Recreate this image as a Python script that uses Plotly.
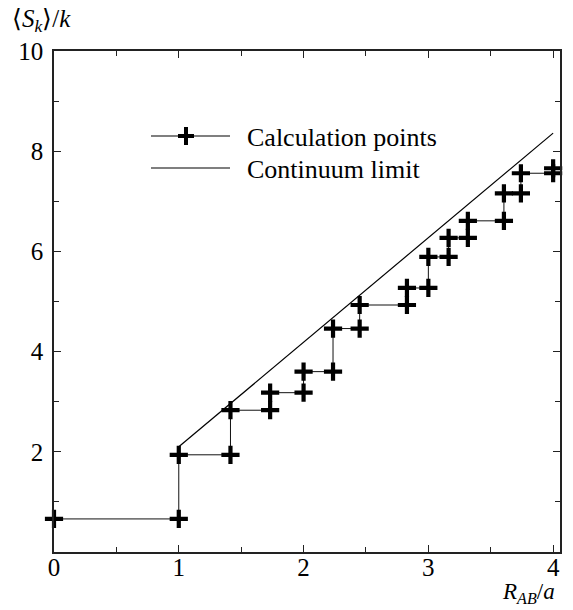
import math
import plotly.graph_objects as go

# Data
r_values = [0, 1, math.sqrt(2), math.sqrt(3), 2, math.sqrt(5), math.sqrt(6),
            math.sqrt(8), 3, math.sqrt(10), math.sqrt(11), math.sqrt(13),
            math.sqrt(14), 4]
s_values = [0.66, 1.94, 2.83, 3.18, 3.60, 4.46, 4.93, 5.27, 5.89, 6.27,
            6.61, 7.16, 7.56, 7.66]
limit_r = [1, 4]
limit_s = [2.10, 8.36]
x_ticks = [0, 1, 2, 3, 4]
y_ticks = [2, 4, 6, 8, 10]

# staircase: each new radius gets a point at the previous and the new value
step_x = [r_values[0]]
step_y = [s_values[0]]
for i in range(1, len(r_values)):
    step_x += [r_values[i], r_values[i]]
    step_y += [s_values[i - 1], s_values[i]]

FONT = "Liberation Serif"

fig = go.Figure()
fig.add_trace(go.Scatter(
    x=step_x, y=step_y, mode="lines+markers", name="Calculation points",
    line=dict(color="#111", width=1),
    marker=dict(symbol="cross-thin", size=13, color="black",
                line=dict(color="black", width=4.2)),
    showlegend=False, cliponaxis=False,
))
fig.add_trace(go.Scatter(
    x=limit_r, y=limit_s, mode="lines", name="Continuum limit",
    line=dict(color="black", width=1.2), showlegend=False,
))

L, R, T, B = 54, 560, 51, 552
W, H = 573, 610


def px(xp):
    return (xp - L) / (R - L)


def py(yp):
    return (B - yp) / (B - T)


shapes = []
for yy in (136, 168):
    shapes.append(dict(type="line", xref="paper", yref="paper",
                       x0=px(151), x1=px(230), y0=py(yy), y1=py(yy),
                       line=dict(color="black", width=1.2)))
cx, cy = 186, 136
shapes.append(dict(type="rect", xref="paper", yref="paper",
                   x0=px(cx - 8), x1=px(cx + 8), y0=py(cy - 2), y1=py(cy + 2),
                   fillcolor="black", line=dict(width=0)))
shapes.append(dict(type="rect", xref="paper", yref="paper",
                   x0=px(cx - 2), x1=px(cx + 2), y0=py(cy - 9), y1=py(cy + 9),
                   fillcolor="black", line=dict(width=0)))

annotations = [
    dict(text="Calculation points", xref="paper", yref="paper",
         x=px(245), y=py(137), xanchor="left", yanchor="middle",
         showarrow=False, font=dict(family=FONT, size=26, color="black")),
    dict(text="Continuum limit", xref="paper", yref="paper",
         x=px(245), y=py(169), xanchor="left", yanchor="middle",
         showarrow=False, font=dict(family=FONT, size=26, color="black")),
    dict(text="⟨<i>S</i><sub><i>k</i></sub>⟩/<i>k</i>", xref="paper", yref="paper",
         x=px(10), y=py(3), xanchor="left", yanchor="top",
         showarrow=False, font=dict(family=FONT, size=25, color="black")),
    dict(text="<i>R</i><sub><i>AB</i></sub>/<i>a</i>", xref="paper", yref="paper",
         x=px(557), y=py(577), xanchor="right", yanchor="top",
         showarrow=False, font=dict(family=FONT, size=23, color="black")),
]

axis_common = dict(
    showline=True, linecolor="#222", linewidth=1.5, mirror="ticks",
    ticks="inside", ticklen=7, tickwidth=1.2, tickcolor="#222",
    showgrid=False, zeroline=False,
    tickfont=dict(family=FONT, size=25, color="black"),
)

fig.update_layout(
    width=W, height=H,
    margin=dict(l=L, r=W - R, t=T, b=H - B, autoexpand=False),
    paper_bgcolor="white", plot_bgcolor="white",
    xaxis=dict(range=[0, 4.055], tickvals=x_ticks, ticktext=[str(v) for v in x_ticks],
               minor=dict(dtick=0.5, tick0=0, ticks="inside", ticklen=5,
                          tickwidth=1.2, tickcolor="#222"),
               ticklabelstandoff=-8, automargin=False, **axis_common),
    yaxis=dict(range=[0, 10], tickvals=y_ticks, ticktext=[str(v) for v in y_ticks],
               minor=dict(dtick=1, tick0=0, ticks="inside", ticklen=5,
                          tickwidth=1.2, tickcolor="#222"),
               ticklabelstandoff=4, automargin=False, **axis_common),
    shapes=shapes, annotations=annotations, showlegend=False,
)

fig.write_html("out.html", config={"displayModeBar": False},
               post_script="document.body.style.margin='0';document.body.style.padding='0';")
